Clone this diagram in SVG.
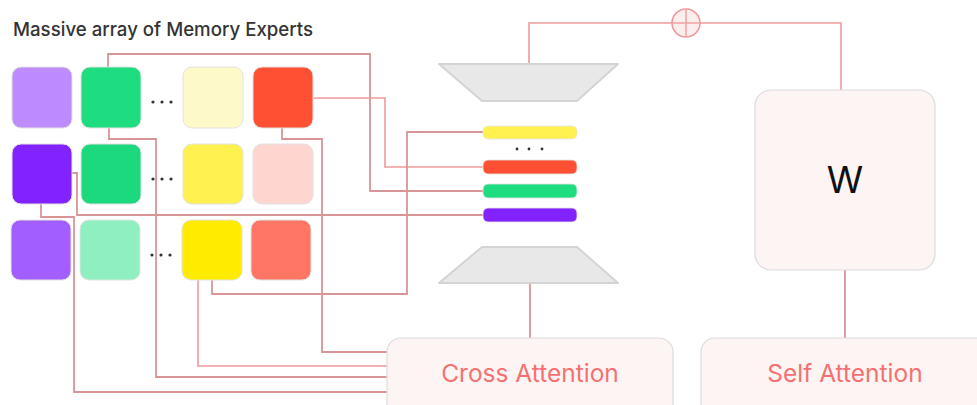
<svg xmlns="http://www.w3.org/2000/svg" width="977" height="405" viewBox="0 0 977 405">
<style>
.title{font-family:Inter,"Liberation Sans",sans-serif;font-size:18.8px;font-weight:500;fill:#333}
.cell{stroke:#e2e2e2;stroke-width:1}
.bar{stroke:#e6e6e6;stroke-width:0.8}
.trap{fill:#e8e8e8;stroke:#d4d4d4;stroke-width:2;stroke-linejoin:round}
.box{fill:#fdf5f4;stroke:#dcdcdc;stroke-width:1.2}
.lbl{font-family:Inter,"Liberation Sans",sans-serif;font-size:24.5px;fill:#f77070;text-anchor:middle}
.w{font-family:Inter,"Liberation Sans",sans-serif;font-size:37px;fill:#111;text-anchor:middle}
.c{fill:none;stroke:#d99596;stroke-width:1.8}
.c2{fill:none;stroke:#f19a9a;stroke-width:1.6}
.dot{fill:#333}
</style>
<rect width="977" height="405" fill="#ffffff"/>
<text class="title" x="13" y="36" textLength="300" lengthAdjust="spacingAndGlyphs">Massive array of Memory Experts</text>

<g id="connectors">
  <polyline class="c" points="108,67 108,54 370,54 370,191 483,191"/>
  <polyline class="c2" points="313,98 385,98 385,167 483,167"/>
  <polyline class="c" points="72,173 77,173 77,215 483,215"/>
  <polyline class="c" points="212,280 212,294 407,294 407,132 483,132"/>
  <polyline class="c" points="109,128 109,139 156,139 156,377 387,377"/>
  <polyline class="c" points="282,128 282,139 322,139 322,352 387,352"/>
  <polyline class="c2" points="198,280 198,366 387,366"/>
  <polyline class="c" points="41,204 41,217 74,217 74,392 387,392"/>
  <line class="c" x1="530" y1="283" x2="530" y2="338"/>
  <line class="c" x1="845" y1="270" x2="845" y2="338"/>
  <polyline class="c2" points="529,64 529,23 841,23 841,90"/>
</g>

<g id="sum">
  <circle cx="686" cy="23" r="14" fill="#fdeeee" stroke="#f29b9b" stroke-width="1.6"/>
  <line x1="686" y1="9" x2="686" y2="37" stroke="#f29b9b" stroke-width="1.4"/>
  <line x1="672" y1="23" x2="700" y2="23" stroke="#f29b9b" stroke-width="1.4"/>
</g>

<g id="experts">
  <g id="e11"><rect class="cell" x="12" y="67" width="60" height="61" rx="9" fill="#bf8cff"/></g>
  <g id="e12"><rect class="cell" x="81" y="67" width="60" height="61" rx="9" fill="#1ddd80"/></g>
  <g id="e13"><rect class="cell" x="183" y="67" width="60" height="61" rx="9" fill="#fef9c8"/></g>
  <g id="e14"><rect class="cell" x="253" y="67" width="60" height="61" rx="9" fill="#ff5033"/></g>
  <g id="e21"><rect class="cell" x="12" y="144" width="60" height="60" rx="9" fill="#8223ff"/></g>
  <g id="e22"><rect class="cell" x="81" y="144" width="60" height="60" rx="9" fill="#1dd97e"/></g>
  <g id="e23"><rect class="cell" x="183" y="144" width="60" height="60" rx="9" fill="#fef150"/></g>
  <g id="e24"><rect class="cell" x="253" y="144" width="60" height="60" rx="9" fill="#fed5cf"/></g>
  <g id="e31"><rect class="cell" x="11" y="220" width="60" height="60" rx="9" fill="#a35eff"/></g>
  <g id="e32"><rect class="cell" x="80" y="220" width="60" height="60" rx="9" fill="#8fefc0"/></g>
  <g id="e33"><rect class="cell" x="182" y="220" width="60" height="60" rx="9" fill="#feeb00"/></g>
  <g id="e34"><rect class="cell" x="251" y="220" width="60" height="60" rx="9" fill="#ff7764"/></g>
  <circle class="dot" cx="153" cy="102" r="1.6"/><circle class="dot" cx="162" cy="102" r="1.6"/><circle class="dot" cx="171" cy="102" r="1.6"/>
  <circle class="dot" cx="153" cy="179" r="1.6"/><circle class="dot" cx="162" cy="179" r="1.6"/><circle class="dot" cx="171" cy="179" r="1.6"/>
  <circle class="dot" cx="152" cy="255" r="1.6"/><circle class="dot" cx="161" cy="255" r="1.6"/><circle class="dot" cx="170" cy="255" r="1.6"/>
</g>

<g id="encoder"><polygon class="trap" points="439,64 618,64 577,101 482,101"/></g>
<g id="decoder"><polygon class="trap" points="482,247 577,247 618,283 439,283"/></g>

<g id="bars">
  <rect class="bar" x="483" y="126" width="94" height="13" rx="5" fill="#fef150"/>
  <circle class="dot" cx="517" cy="149" r="1.4"/><circle class="dot" cx="529" cy="149" r="1.4"/><circle class="dot" cx="542" cy="149" r="1.4"/>
  <rect class="bar" x="483" y="160" width="94" height="14" rx="5" fill="#ff5033"/>
  <rect class="bar" x="483" y="184" width="94" height="14" rx="5" fill="#1ddd80"/>
  <rect class="bar" x="483" y="208" width="94" height="14" rx="5" fill="#8223ff"/>
</g>

<g id="wbox">
  <rect class="box" x="755" y="90" width="180" height="180" rx="16"/>
  <text class="w" x="845" y="193">W</text>
</g>

<g id="cross">
  <rect class="box" x="387" y="338" width="286" height="90" rx="14"/>
  <text class="lbl" x="530" y="382">Cross Attention</text>
</g>

<g id="self">
  <rect class="box" x="701" y="338" width="300" height="90" rx="14"/>
  <text class="lbl" x="845" y="382">Self Attention</text>
</g>
</svg>
